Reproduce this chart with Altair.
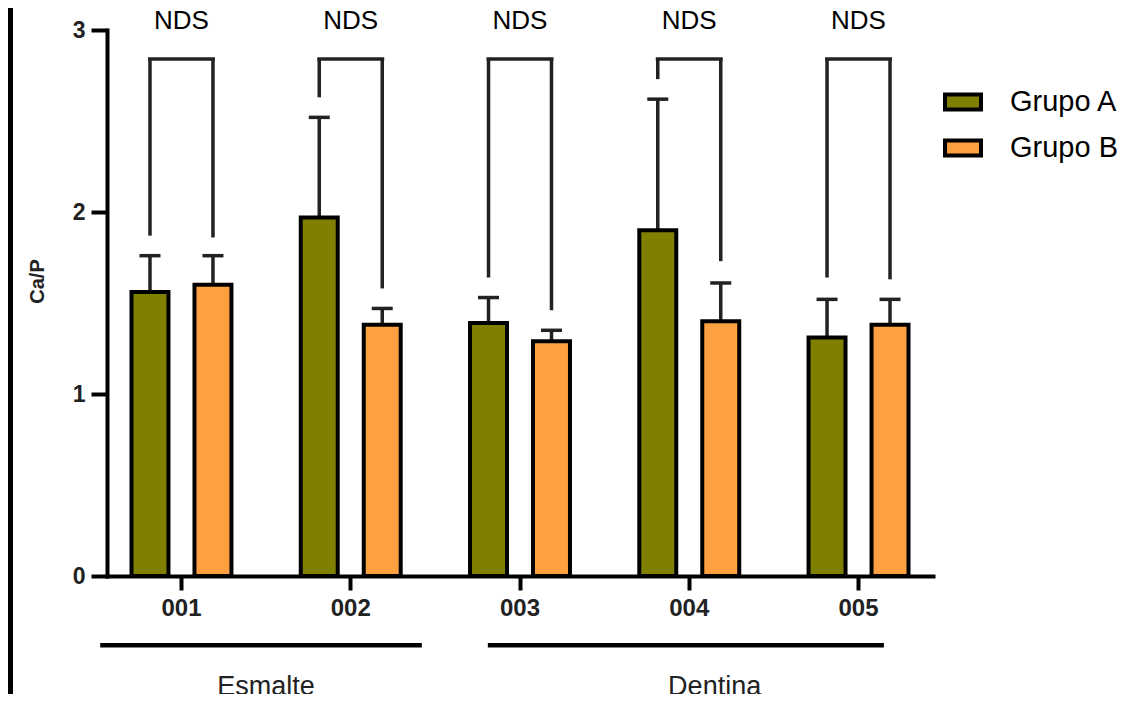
import altair as alt
import pandas as pd

# ---------------- data ----------------
categorias = ["001", "002", "003", "004", "005"]
grupos = ["Grupo A", "Grupo B"]
colores = ["#808000", "#FFA040"]

media_a = [1.56, 1.97, 1.39, 1.90, 1.31]
sd_a = [0.20, 0.55, 0.14, 0.72, 0.21]
media_b = [1.60, 1.38, 1.29, 1.40, 1.38]
sd_b = [0.16, 0.09, 0.06, 0.21, 0.14]

# significance brackets
bracket_top = 2.84
bracket_izq = [1.87, 2.63, 1.64, 2.73, 1.64]
bracket_der = [1.86, 1.58, 1.46, 1.73, 1.63]
etiqueta_sig = ["NDS", "NDS", "NDS", "NDS", "NDS"]
altura_sig = 3.05

# tissue groups under the x axis (in category-index units)
tejidos = ["Esmalte", "Dentina"]
tejido_inicio = [-0.48, 1.81]
tejido_fin = [1.42, 4.15]
tejido_centro = [0.50, 3.15]
linea_y = -0.38
texto_y = -0.61

FONT = "Liberation Sans"

# ---------------- tables ----------------
rows = []
for i, c in enumerate(categorias):
    rows.append({"cat": c, "grupo": "Grupo A", "media": media_a[i], "sup": media_a[i] + sd_a[i]})
    rows.append({"cat": c, "grupo": "Grupo B", "media": media_b[i], "sup": media_b[i] + sd_b[i]})
bars = pd.DataFrame(rows)

legs = []
for i, c in enumerate(categorias):
    legs.append({"cat": c, "grupo": "Grupo A", "bottom": bracket_izq[i], "top": bracket_top})
    legs.append({"cat": c, "grupo": "Grupo B", "bottom": bracket_der[i], "top": bracket_top})
legs = pd.DataFrame(legs)

sig = pd.DataFrame({"cat": categorias, "top": [bracket_top] * 5,
                    "txt": etiqueta_sig, "ty": [altura_sig] * 5})

tej = pd.DataFrame({"tejido": tejidos, "ini": tejido_inicio, "fin": tejido_fin,
                    "centro": tejido_centro, "ly": [linea_y] * 2, "ty": [texto_y] * 2})

# ---------------- scales ----------------
xs = alt.Scale(domain=categorias, paddingInner=0.12, paddingOuter=0, align=0)
xo = alt.Scale(domain=grupos, paddingInner=0.413, paddingOuter=0.389)
ys = alt.Scale(domain=[0, 3], nice=False, zero=True)
xq = alt.Scale(domain=[-0.44, 4.44], nice=False, zero=False)

x_axis = alt.Axis(labelFont=FONT, labelFontWeight="bold", labelFontSize=24, labelColor="#222",
                  labelAngle=0, labelPadding=6, tickSize=14, tickWidth=4, tickColor="black",
                  domainColor="black", domainWidth=4, domainCap="square", grid=False, title=None)
y_axis = alt.Axis(values=[0, 1, 2, 3], format="d", labelFont=FONT, labelFontWeight="bold",
                  labelFontSize=23, labelColor="#222", labelPadding=6, tickSize=16, tickWidth=4,
                  tickColor="black", domainColor="black", domainWidth=4, domainCap="square",
                  grid=False, title="Ca/P", titleFont=FONT, titleFontWeight="bold",
                  titleFontSize=20, titleColor="#222", titleAngle=-90, titleX=-70, titleY=251,
                  titleAlign="center", titleBaseline="middle")

legend = alt.Legend(title=None, orient="none", legendX=836, legendY=52, padding=0,
                    symbolType="M-1,-0.42L1,-0.42L1,0.42L-1,0.42Z", symbolSize=1296,
                    symbolStrokeColor="black", symbolStrokeWidth=4, symbolOpacity=1,
                    labelFont=FONT, labelFontSize=29, labelColor="black", labelOffset=27,
                    rowPadding=10)


def Y(field):
    return alt.Y(field, scale=ys, axis=y_axis)


# error bars (upper only)
err = alt.Chart(bars).mark_rule(color="#222", strokeWidth=3.5).encode(
    x=alt.X("cat:N", scale=xs, axis=x_axis),
    xOffset=alt.XOffset("grupo:N", scale=xo),
    y=Y("media:Q"),
    y2="sup:Q",
)
cap = alt.Chart(bars).mark_tick(color="#222", thickness=3.5, size=21, opacity=1).encode(
    x=alt.X("cat:N", scale=xs, axis=x_axis),
    xOffset=alt.XOffset("grupo:N", scale=xo),
    y=Y("sup:Q"),
)
bar = alt.Chart(bars).mark_bar(stroke="black", strokeWidth=4, opacity=1).encode(
    x=alt.X("cat:N", scale=xs, axis=x_axis),
    xOffset=alt.XOffset("grupo:N", scale=xo),
    y=Y("media:Q"),
    color=alt.Color("grupo:N", scale=alt.Scale(domain=grupos, range=colores), legend=legend),
)
leg = alt.Chart(legs).mark_rule(color="#222", strokeWidth=3.5).encode(
    x=alt.X("cat:N", scale=xs, axis=x_axis),
    xOffset=alt.XOffset("grupo:N", scale=xo),
    y=Y("bottom:Q"),
    y2="top:Q",
)
hbar = alt.Chart(sig).mark_tick(color="#222", thickness=3.5, size=67, opacity=1).encode(
    x=alt.X("cat:N", scale=xs, axis=x_axis),
    y=Y("top:Q"),
)
nds = alt.Chart(sig).mark_text(font=FONT, fontSize=26, color="black", baseline="middle",
                               align="center").encode(
    x=alt.X("cat:N", scale=xs, axis=x_axis, bandPosition=0.5),
    y=Y("ty:Q"),
    text="txt:N",
)
tline = alt.Chart(tej).mark_rule(color="black", strokeWidth=4.5).encode(
    x=alt.X("ini:Q", scale=xq, axis=None),
    x2="fin:Q",
    y=Y("ly:Q"),
)
ttext = alt.Chart(tej).mark_text(font=FONT, fontSize=27, color="#222", baseline="middle").encode(
    x=alt.X("centro:Q", scale=xq, axis=None),
    y=Y("ty:Q"),
    text="tejido:N",
)
frame = alt.Chart(tej).mark_rule(color="black", strokeWidth=8).encode(
    x=alt.value(-98), y=alt.value(-40), y2=alt.value(720)
)

main = alt.layer(err, cap, bar, leg, hbar, nds)
chart = alt.layer(main, tline, ttext, frame).resolve_scale(
    x="independent"
).properties(
    width=826, height=546,
    padding={"left": 99, "top": 22, "right": 190, "bottom": 118},
    autosize=alt.AutoSizeParams(type="none"),
).configure_view(stroke=None)

chart.save("out.html", embed_options={"renderer": "svg", "actions": False})
